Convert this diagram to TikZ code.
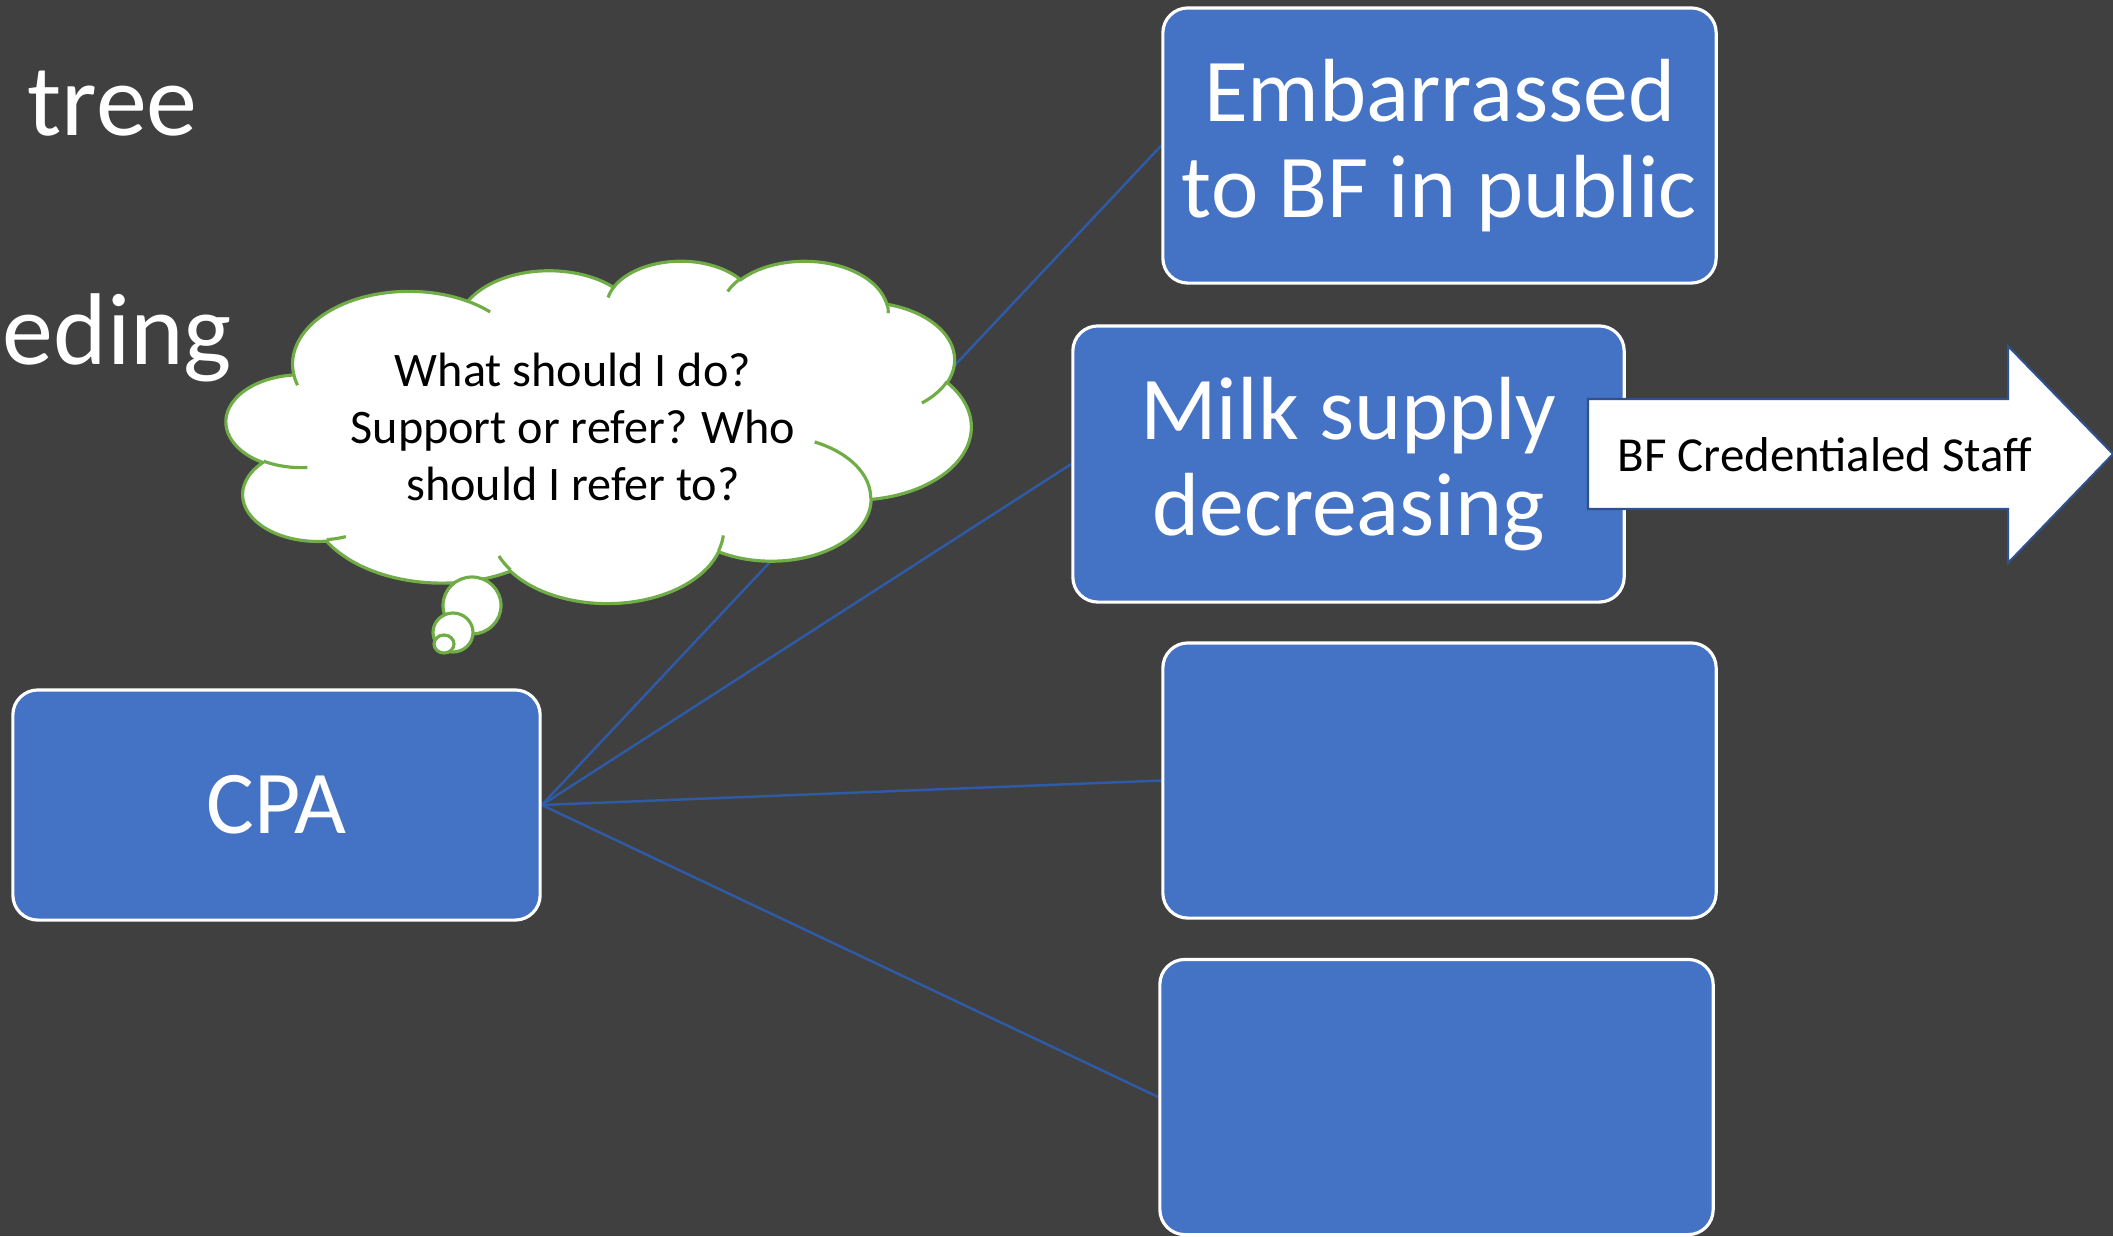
\documentclass[tikz,border=0pt]{standalone}
\usepackage{fontspec}
\setmainfont{Carlito}
\definecolor{bg}{HTML}{404040}
\definecolor{boxblue}{HTML}{4472C4}
\definecolor{linkblue}{HTML}{2F5AA6}
\definecolor{cloudgreen}{HTML}{70AD47}
\definecolor{arrowedge}{HTML}{2F528F}
\pgfdeclarelayer{backfill}
\pgfdeclarelayer{links}
\pgfsetlayers{backfill,links,main}
\begin{document}
\begin{tikzpicture}[x=0.01cm,y=-0.01cm,
  bluebox/.style={draw=white, line width=0.9pt, fill=boxblue, rounded corners=0.25cm,
    text=white, align=center, inner sep=0pt, font=\fontsize{25.5}{27.5}\selectfont},
  link/.style={draw=linkblue, line width=0.7pt},
  title/.style={text=white, anchor=base west, inner sep=0pt, font=\fontsize{29}{33}\selectfont},
  bubble/.style={draw=cloudgreen, fill=white, line width=0.9pt},
  puffline/.style={draw=cloudgreen, line width=0.9pt},
  blacktext/.style={text=black, align=center, inner sep=0pt, font=\fontsize{13.7}{16.3}\selectfont}]
\begin{pgfonlayer}{backfill}
\fill[bg] (0,0) rectangle (2113,1236);
\end{pgfonlayer}
\useasboundingbox (0,0) rectangle (2113,1236);
\clip (0,0) rectangle (2113,1236);
% title fragments
\node[title] (t1) at (27,135) {tree};
\node[title] (t2) at (2,364) {eding};
% boxes
\node[bluebox, minimum width=5.27cm, minimum height=2.30cm] (cpa) at (276.5,805) {CPA};
\node[bluebox, minimum width=5.53cm, minimum height=2.75cm] (emb) at (1439.5,145.5) {Embarrassed\\to BF in public};
\node[bluebox, minimum width=5.51cm, minimum height=2.76cm] (milk) at (1348.5,464) {Milk supply\\decreasing};
\node[bluebox, minimum width=5.53cm, minimum height=2.75cm] (b3) at (1439.5,780.5) {};
\node[bluebox, minimum width=5.53cm, minimum height=2.75cm] (b4) at (1436.5,1097) {};
% connectors
\begin{pgfonlayer}{links}
\draw[link] (cpa.east) -- (emb.west);
\draw[link] (cpa.east) -- (milk.west);
\draw[link] (cpa.east) -- (b3.west);
\draw[link] (cpa.east) -- (b4.west);
\end{pgfonlayer}
% thought cloud (shape in a 432 x 432 frame)
\begin{scope}[shift={(226.4,260.1)}, x=0.0172222cm, y=-0.00791667cm]
\draw[bubble] (39.00,143.70)
 arc[start angle=-187.745, end angle=-59.64, x radius=67.53, y radius=91.90]
 arc[start angle=-152.04, end angle=-45.46, x radius=53.33, y radius=72.67]
 arc[start angle=-153.49, end angle=-37.31, x radius=43.65, y radius=59.45]
 arc[start angle=-139.72, end angle=-10.21, x radius=48.57, y radius=65.95]
 arc[start angle=-74.77, end angle=23.21, x radius=53.33, y radius=72.73]
 arc[start angle=-37.51, end angle=81.86, x radius=67.75, y radius=92.20]
 arc[start angle=0.46, end angle=121.97, x radius=57.85, y radius=78.67]
 arc[start angle=16.84, end angle=146.23, x radius=67.52, y radius=92.15]
 arc[start angle=58.99, end angle=150.19, x radius=77.20, y radius=105.43]
 arc[start angle=-276.69, end angle=-136.89, x radius=43.60, y radius=59.18]
 arc[start angle=-239.64, end angle=-95.89, x radius=43.45, y radius=59.45]
 -- cycle;
\draw[puffline] (46.93,261.77) arc[start angle=85.55, end angle=120.36, x radius=43.45, y radius=59.45];
\draw[puffline] (69.28,348.99) arc[start angle=68.23, end angle=83.30, x radius=43.60, y radius=59.18];
\draw[puffline] (164.78,390.90) arc[start angle=146.23, end angle=158.47, x radius=67.52, y radius=92.15];
\draw[puffline] (288.27,347.51) arc[start angle=4.74, end angle=16.84, x radius=67.52, y radius=92.15];
\draw[puffline] (341.29,229.54) arc[start angle=-64.03, end angle=0.46, x radius=57.85, y radius=78.67];
\draw[puffline] (417.98,153.54) arc[start angle=23.21, end angle=49.65, x radius=53.33, y radius=72.73];
\draw[puffline] (383.24,54.26) arc[start angle=-10.21, end angle=0.82, x radius=48.57, y radius=65.95];
\draw[puffline] (290.78,39.52) arc[start angle=-156.29, end angle=-139.72, x radius=48.57, y radius=65.95];
\draw[puffline] (221.41,47.20) arc[start angle=-167.73, end angle=-153.49, x radius=43.65, y radius=59.45];
\draw[puffline] (140.00,51.92) arc[start angle=-59.64, end angle=-45.74, x radius=67.53, y radius=91.90];
\draw[puffline] (41.27,157.89) arc[start angle=163.20, end angle=172.25, x radius=67.53, y radius=91.90];
\end{scope}
\draw[bubble] (472,605.5) ellipse [x radius=0.29cm, y radius=0.285cm];
\draw[bubble] (453,632.5) ellipse [x radius=0.20cm, y radius=0.195cm];
\draw[bubble] (444,644) ellipse [x radius=0.10cm, y radius=0.09cm];
\node[blacktext] (q) at (573,427) {What should I do?\\Support or refer? Who\\should I refer to?};
% referral arrow
\draw[draw=arrowedge, fill=white, line width=0.6pt, line join=miter]
  (1588,399) -- (2008,399) -- (2008,346) -- (2113,454) -- (2008,563) -- (2008,509) -- (1588,509) -- cycle;
\node[text=black, inner sep=0pt, font=\fontsize{13.9}{16}\selectfont] (staff) at (1825,455) {BF Credentialed Staff};
\end{tikzpicture}
\end{document}
